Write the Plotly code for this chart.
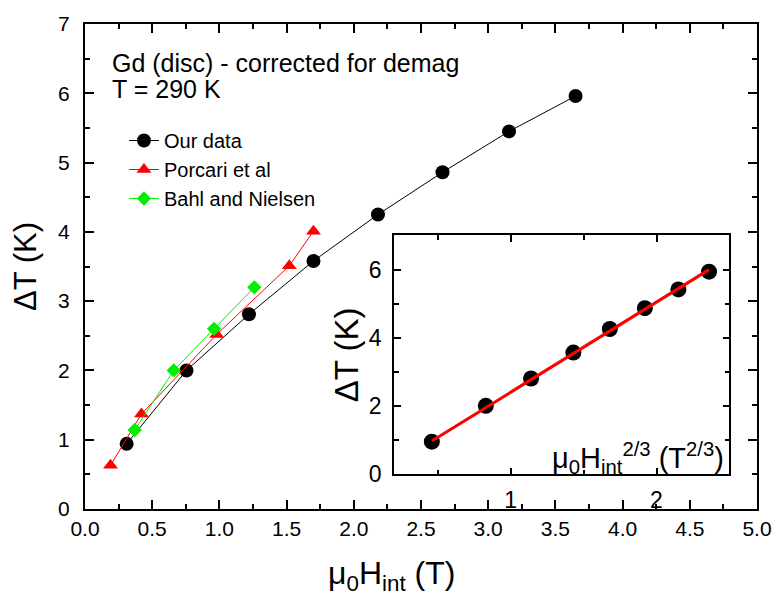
import plotly.graph_objects as go

# ---- data ----
our_H = [0.31, 0.755, 1.22, 1.70, 2.18, 2.66, 3.155, 3.65]
our_dT = [0.94, 2.00, 2.81, 3.58, 4.25, 4.86, 5.45, 5.96]

porcari_H = [0.19, 0.42, 0.98, 1.52, 1.70]
porcari_dT = [0.63, 1.37, 2.52, 3.51, 4.01]

bahl_H = [0.37, 0.66, 0.96, 1.26]
bahl_dT = [1.14, 2.00, 2.60, 3.20]

inset_H23 = [0.46, 0.83, 1.14, 1.43, 1.68, 1.92, 2.15, 2.36]
inset_dT = [0.96, 2.01, 2.81, 3.57, 4.26, 4.87, 5.42, 5.94]

fit_H23 = [0.46, 2.36]
fit_dT = [0.98, 6.00]

FONT = "Liberation Sans, Arial, sans-serif"

fig = go.Figure()
fig.add_trace(go.Scatter(x=our_H, y=our_dT, mode="lines+markers", name="Our data",
                         line=dict(color="black", width=1),
                         marker=dict(symbol="circle", size=14, color="black")))
fig.add_trace(go.Scatter(x=porcari_H, y=porcari_dT, mode="lines+markers", name="Porcari et al",
                         line=dict(color="#ff0000", width=1),
                         marker=dict(symbol="triangle-up", size=13, color="#ff0000")))
fig.add_trace(go.Scatter(x=bahl_H, y=bahl_dT, mode="lines+markers", name="Bahl and Nielsen",
                         line=dict(color="#00ee00", width=1),
                         marker=dict(symbol="diamond", size=11, color="#00ee00")))

# inset
fig.add_trace(go.Scatter(x=inset_H23, y=inset_dT, mode="markers", showlegend=False,
                         marker=dict(symbol="circle", size=16, color="black"),
                         xaxis="x2", yaxis="y2"))
fig.add_trace(go.Scatter(x=fit_H23, y=fit_dT, mode="lines", showlegend=False,
                         line=dict(color="#ff0000", width=3),
                         xaxis="x2", yaxis="y2"))

axis_common = dict(showgrid=False, zeroline=False, showline=True, linecolor="black",
                   mirror="ticks", ticks="inside", tickcolor="black")

fig.update_layout(
    width=784, height=602,
    margin=dict(l=85, r=16, t=18, b=93),
    paper_bgcolor="white", plot_bgcolor="white",
    font=dict(family=FONT, color="black"),
    xaxis=dict(range=[0, 5], dtick=0.5, tick0=0, tickformat=".1f", linewidth=2,
               ticklen=9, tickwidth=2,
               tickfont=dict(family=FONT, size=21, color="black"),
               minor=dict(ticks="inside", dtick=0.25, ticklen=5, tickwidth=2, tickcolor="black"),
               ticklabelstandoff=0,
               **axis_common),
    yaxis=dict(range=[0, 7], dtick=1, tick0=0, linewidth=2, ticklen=9, tickwidth=2,
               tickfont=dict(family=FONT, size=21, color="black"),
               minor=dict(ticks="inside", dtick=0.5, ticklen=5, tickwidth=2, tickcolor="black"),
               title=dict(text="ΔT (K)", font=dict(family=FONT, size=31), standoff=12),
               ticklabelstandoff=9,
               **axis_common),
    xaxis2=dict(domain=[0.4597, 0.959], anchor="y2", range=[0.2, 2.5], dtick=1, tick0=0,
                linewidth=1.5, ticklen=7, tickwidth=1.5,
                tickfont=dict(family=FONT, size=23, color="black"),
                minor=dict(ticks="inside", dtick=0.5, ticklen=5, tickwidth=1.5, tickcolor="black"),
                ticklabelstandoff=4,
                **axis_common),
    yaxis2=dict(domain=[0.0713, 0.564], anchor="x2", range=[0, 7], dtick=2, tick0=0,
                linewidth=1.5, ticklen=7, tickwidth=1.5,
                tickfont=dict(family=FONT, size=23, color="black"),
                minor=dict(ticks="inside", dtick=1, ticklen=5, tickwidth=1.5, tickcolor="black"),
                title=dict(text="ΔT (K)", font=dict(family=FONT, size=33), standoff=0),
                ticklabelstandoff=6,
                **axis_common),
    legend=dict(x=0.058, y=0.8, xanchor="left", yanchor="top",
                bgcolor="rgba(0,0,0,0)", borderwidth=0,
                font=dict(family=FONT, size=20, color="black"),
                tracegroupgap=0, itemsizing="trace"),
    showlegend=True,
)

fig.add_annotation(text="Gd (disc) - corrected for demag", xref="paper", yref="paper",
                   x=(110 - 85) / 683, y=(509 - 57) / 491, xanchor="left", yanchor="middle",
                   showarrow=False, font=dict(family=FONT, size=25, color="black"))
fig.add_annotation(text="T = 290 K", xref="paper", yref="paper",
                   x=(110 - 85) / 683, y=(509 - 84) / 491, xanchor="left", yanchor="middle",
                   showarrow=False, font=dict(family=FONT, size=25, color="black"))
fig.add_annotation(text="μ<sub>0</sub>H<sub>int</sub> (T)", xref="paper", yref="paper",
                   x=(397 - 85) / 683, y=(509 - 576) / 491, xanchor="center", yanchor="middle",
                   showarrow=False, font=dict(family=FONT, size=32, color="black"))
fig.add_annotation(text="μ<sub>0</sub>H<sub>int</sub><sup>2/3</sup> (T<sup>2/3</sup>)",
                   xref="paper", yref="paper",
                   x=(647 - 85) / 683, y=(509 - 457) / 491, xanchor="center", yanchor="middle",
                   showarrow=False, font=dict(family=FONT, size=29, color="black"))

fig.write_html("out.html")
